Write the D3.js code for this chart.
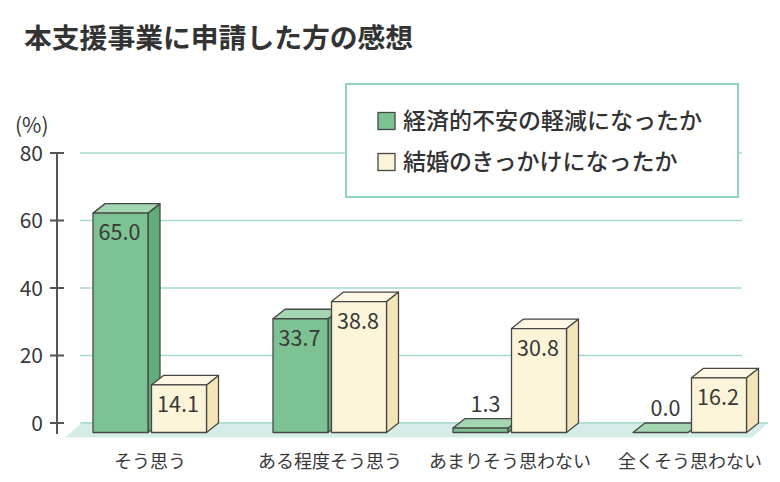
<!DOCTYPE html>
<html><head><meta charset="utf-8">
<script src="https://cdn.jsdelivr.net/npm/d3@7"></script>
<style>
html,body{margin:0;padding:0;background:#fff;}
svg text{font-family:"Noto Sans CJK JP","Noto Sans",sans-serif;}
</style></head>
<body><svg id="c" width="780" height="482"></svg>
<script>
const title = "本支援事業に申請した方の感想";
const categories = ["そう思う","ある程度そう思う","あまりそう思わない","全くそう思わない"];
const seriesNames = ["経済的不安の軽減になったか","結婚のきっかけになったか"];
const economicValues = [65.0, 33.7, 1.3, 0.0];
const marriageValues = [14.1, 38.8, 30.8, 16.2];
const yTicks = [0, 20, 40, 60, 80];
const yUnit = "(%)";

const svg = d3.select("#c");
const x = d3.scaleBand().domain(categories).range([60, 780]).padding(0);
const y = d3.scaleLinear().domain([0, 80]).range([423, 153]);
const DX = 12, DY = 9.5, BW = 55;
const textCol = "#383838";
const colors = [
  {front:"#7dc292", side:"#61ad79", top:"#a3d6b1"},
  {front:"#fcf4d8", side:"#f3e5b8", top:"#fdf7e3"}
];

// title
svg.append("text").attr("x", 24).attr("y", 48).attr("font-size", 27.8).attr("font-weight", "bold")
  .attr("fill", "#333").text(title);

// gridlines
svg.append("g").selectAll("line").data(yTicks).join("line")
  .attr("x1", 80).attr("x2", 742).attr("y1", d => y(d)).attr("y2", d => y(d))
  .attr("stroke", "#a6dacb").attr("stroke-width", 1.5);

// floor
const fy0 = y(0);
svg.append("path")
  .attr("d", `M65,${fy0+14.5} L82,${fy0} L768,${fy0} L752,${fy0+14.5} Z`)
  .attr("fill", "#d4ede6");
svg.append("line").attr("x1", 82).attr("x2", 768).attr("y1", fy0).attr("y2", fy0)
  .attr("stroke", "#a6dacb").attr("stroke-width", 1.5);

// y axis
const ax = svg.append("g");
ax.append("line").attr("x1", 57).attr("x2", 57).attr("y1", y(80)).attr("y2", 434)
  .attr("stroke", "#555").attr("stroke-width", 2);
ax.selectAll(".tk").data(yTicks).join("line")
  .attr("x1", 50).attr("x2", 64).attr("y1", d => y(d)).attr("y2", d => y(d))
  .attr("stroke", "#555").attr("stroke-width", 2);
ax.selectAll(".tl").data(yTicks).join("text")
  .attr("x", 43).attr("y", d => y(d)).attr("dy", "0.36em").attr("text-anchor", "end")
  .attr("font-size", 21).attr("fill", textCol).text(d => d);
svg.append("text").attr("x", 15).attr("y", 133).attr("font-size", 21).attr("fill", textCol).text(yUnit);

// bars
function bar3d(g, x0, v, c) {
  const x1 = x0 + BW;
  const ft = y(v) + DY, fb = y(0) + DY;
  const st = {stroke:"#474747", "stroke-width":1.3, "stroke-linejoin":"round"};
  const apply = s => { for (const k in st) s.attr(k, st[k]); return s; };
  apply(g.append("path").attr("fill", c.side)
    .attr("d", `M${x1},${ft} L${x1+DX},${ft-DY} L${x1+DX},${fb-DY} L${x1},${fb} Z`));
  apply(g.append("path").attr("fill", c.top)
    .attr("d", `M${x0},${ft} L${x0+DX},${ft-DY} L${x1+DX},${ft-DY} L${x1},${ft} Z`));
  apply(g.append("rect").attr("x", x0).attr("y", ft).attr("width", BW).attr("height", fb - ft).attr("fill", c.front));
  // label
  const cx = x0 + BW / 2;
  if (fb - ft > 30) {
    g.append("text").attr("x", cx - 1).attr("y", ft + 27).attr("text-anchor", "middle")
      .attr("font-size", 21.5).attr("fill", textCol).text(v.toFixed(1));
  } else {
    g.append("text").attr("x", cx + 5).attr("y", y(v) - 7).attr("text-anchor", "middle")
      .attr("font-size", 21.5).attr("fill", textCol).text(v.toFixed(1));
  }
}
const series = [economicValues, marriageValues];
categories.forEach((cat, i) => {
  const c = x(cat) + x.bandwidth() / 2;
  const g = svg.append("g");
  bar3d(g, c - 57, series[0][i], colors[0]);
  bar3d(g, c + 1.5, series[1][i], colors[1]);
});

// category labels
svg.append("g").selectAll("text").data(categories).join("text")
  .attr("x", d => x(d) + x.bandwidth() / 2).attr("y", 468).attr("text-anchor", "middle")
  .attr("font-size", 18).attr("fill", textCol).text(d => d);

// legend
svg.append("rect").attr("x", 346).attr("y", 84).attr("width", 392).attr("height", 113)
  .attr("fill", "#fff").attr("stroke", "#93d2c1").attr("stroke-width", 2);
seriesNames.forEach((n, i) => {
  const ly = 121 + i * 41;
  svg.append("rect").attr("x", 378).attr("y", ly - 8.5).attr("width", 17).attr("height", 17)
    .attr("fill", colors[i].front).attr("stroke", "#474747").attr("stroke-width", 1.3);
  svg.append("text").attr("x", 403).attr("y", ly).attr("dy", "0.36em")
    .attr("font-size", 23).attr("fill", "#333").attr("font-weight", 500).text(n);
});
</script></body></html>
